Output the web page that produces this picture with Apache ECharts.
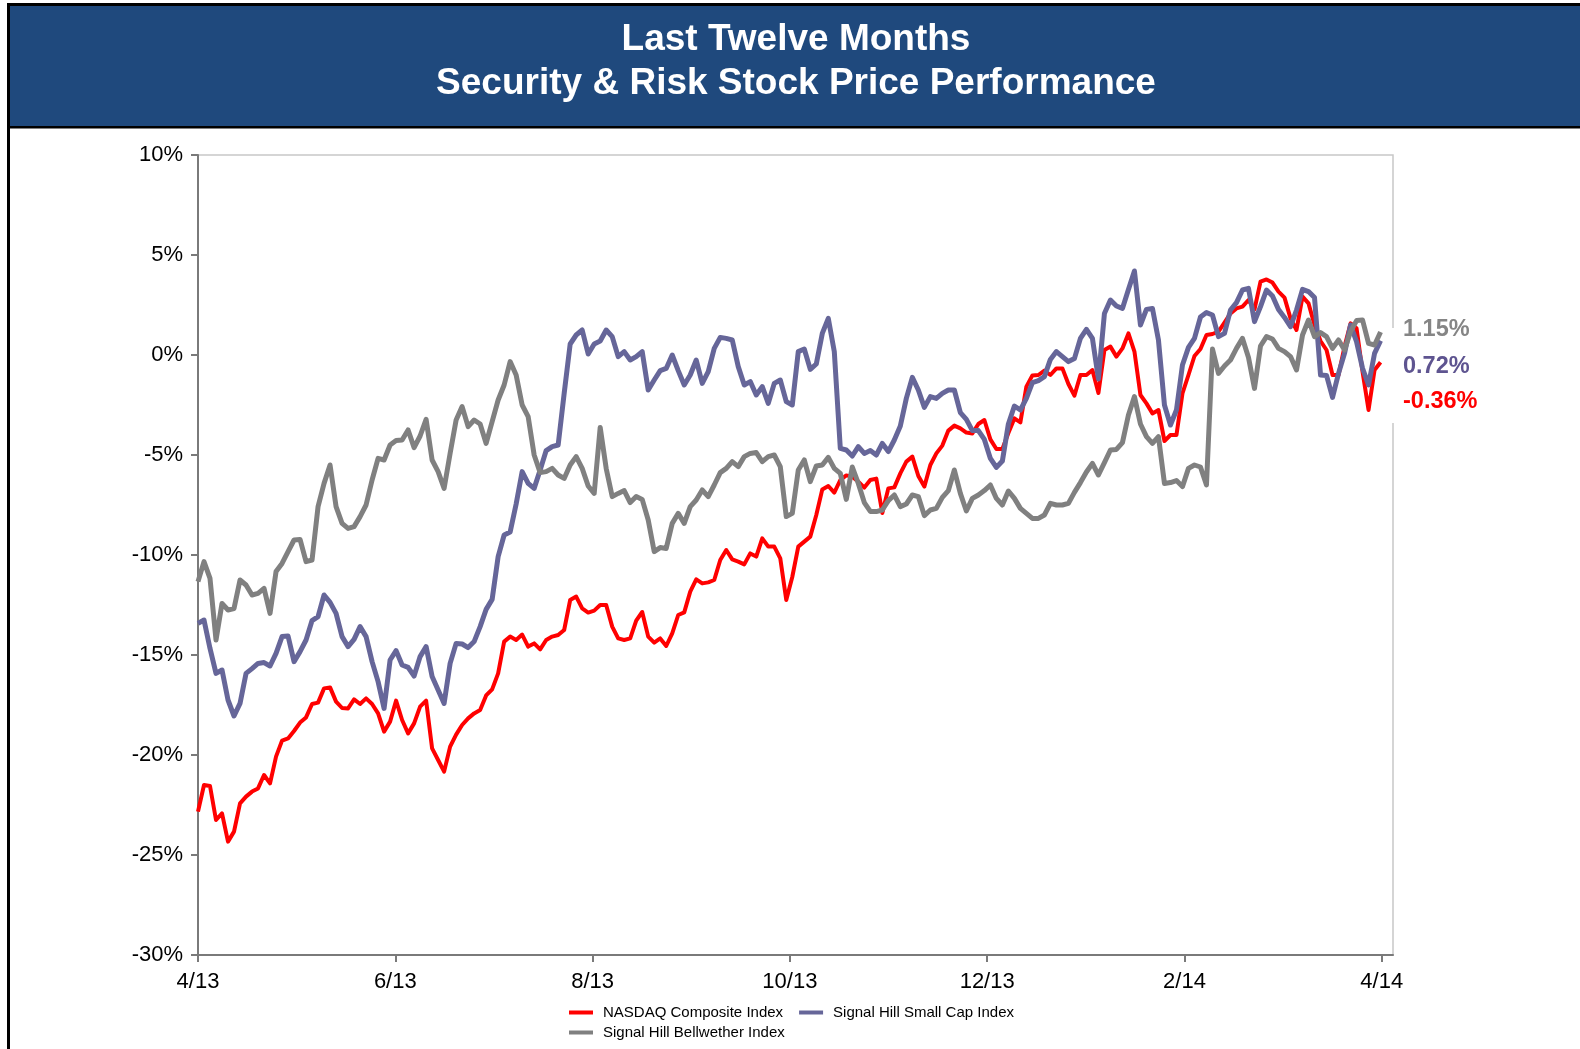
<!DOCTYPE html>
<html>
<head>
<meta charset="utf-8">
<title>Security &amp; Risk Stock Price Performance</title>
<script src="https://cdn.jsdelivr.net/npm/echarts@6/dist/echarts.min.js"></script>
<style>
  html, body { margin: 0; padding: 0; background: #fff; }
  #chart { width: 1580px; height: 1049px; }
</style>
</head>
<body>
<div id="chart"></div>
<script>
// x tick labels, one every two months
const tickLabels = ['4/13', '6/13', '8/13', '10/13', '12/13', '2/14', '4/14'];

const seriesNames = ['NASDAQ Composite Index', 'Signal Hill Small Cap Index', 'Signal Hill Bellwether Index'];

// % change, sampled evenly from 4/13 to end of 3/14
const nasdaq = [
  -22.83, -21.5, -21.55, -23.25, -22.92, -24.33, -23.83, -22.42, -22.08, -21.83,
  -21.67, -21.0, -21.42, -20.08, -19.28, -19.17, -18.8, -18.38, -18.12, -17.45,
  -17.38, -16.67, -16.62, -17.33, -17.65, -17.67, -17.22, -17.45, -17.17, -17.45,
  -17.92, -18.83, -18.33, -17.28, -18.25, -18.92, -18.42, -17.58, -17.28, -19.67,
  -20.25, -20.83, -19.58, -18.98, -18.5, -18.17, -17.92, -17.75, -17.02, -16.72,
  -15.92, -14.33, -14.08, -14.25, -13.98, -14.58, -14.42, -14.72, -14.25, -14.08,
  -14.0, -13.75, -12.25, -12.08, -12.67, -12.88, -12.78, -12.5, -12.5, -13.58,
  -14.17, -14.25, -14.17, -13.28, -12.85, -14.08, -14.38, -14.17, -14.55, -13.92,
  -13.0, -12.87, -11.83, -11.22, -11.42, -11.37, -11.25, -10.25, -9.75, -10.22,
  -10.33, -10.47, -9.92, -10.08, -9.17, -9.58, -9.58, -10.17, -12.25, -11.1,
  -9.58, -9.33, -9.08, -8.0, -6.72, -6.55, -6.88, -6.25, -6.02, -6.08,
  -6.33, -6.63, -6.25, -6.18, -7.9, -6.67, -6.62, -5.92, -5.33, -5.08,
  -6.05, -6.58, -5.5, -4.92, -4.53, -3.78, -3.53, -3.67, -3.88, -3.92,
  -3.45, -3.25, -4.22, -4.7, -4.7, -3.9, -3.17, -3.37, -1.58, -1.02,
  -1.0, -0.78, -1.0, -0.67, -0.67, -1.45, -2.03, -1.0, -1.0, -0.75,
  -1.9, 0.25, 0.42, -0.08, 0.33, 1.08, 0.17, -2.0, -2.42, -2.92,
  -2.75, -4.3, -4.0, -4.0, -1.92, -1.0, -0.05, 0.3, 1.0, 1.05,
  1.17, 1.62, 2.08, 2.33, 2.42, 2.75, 2.28, 3.67, 3.78, 3.62,
  3.17, 2.87, 1.83, 1.25, 2.92, 2.58, 1.5, 0.7, 0.25, -1.0,
  -1.0, 0.42, 1.58, 1.33, -0.83, -2.75, -0.75, -0.36
];

const smallCap = [
  -13.42, -13.25, -14.67, -15.92, -15.75, -17.25, -18.05, -17.42, -15.92, -15.68,
  -15.42, -15.38, -15.55, -14.92, -14.08, -14.05, -15.33, -14.83, -14.25, -13.28,
  -13.08, -12.0, -12.37, -12.92, -14.08, -14.58, -14.22, -13.58, -14.08, -15.33,
  -16.33, -17.67, -15.25, -14.78, -15.5, -15.62, -16.05, -15.08, -14.58, -16.08,
  -16.75, -17.42, -15.42, -14.42, -14.45, -14.63, -14.33, -13.58, -12.72, -12.22,
  -10.08, -9.0, -8.85, -7.45, -5.83, -6.42, -6.67, -5.75, -4.78, -4.58,
  -4.5, -1.92, 0.55, 1.0, 1.25, 0.05, 0.55, 0.7, 1.25, 0.92,
  -0.08, 0.17, -0.25, -0.08, 0.17, -1.75, -1.25, -0.78, -0.67, 0.0,
  -0.78, -1.5, -1.0, -0.25, -1.42, -0.83, 0.33, 0.88, 0.83, 0.75,
  -0.58, -1.5, -1.33, -2.0, -1.58, -2.42, -1.42, -1.25, -2.33, -2.5,
  0.17, 0.3, -0.72, -0.45, 1.08, 1.83, 0.17, -4.67, -4.75, -5.05,
  -4.58, -4.92, -4.78, -5.0, -4.42, -4.83, -4.25, -3.55, -2.17, -1.12,
  -1.75, -2.62, -2.08, -2.17, -1.92, -1.75, -1.75, -2.88, -3.22, -3.78,
  -3.78, -4.22, -5.17, -5.62, -5.3, -3.45, -2.55, -2.75, -2.17, -1.38,
  -1.28, -1.08, -0.22, 0.17, -0.08, -0.33, -0.18, 0.83, 1.28, 0.83,
  -1.2, 2.08, 2.75, 2.45, 2.33, 3.28, 4.2, 1.5, 2.28, 2.33,
  0.75, -2.5, -3.5, -2.75, -0.5, 0.38, 0.83, 1.9, 2.12, 2.0,
  0.92, 1.08, 2.25, 2.62, 3.25, 3.33, 1.67, 2.42, 3.25, 2.95,
  2.28, 1.88, 1.42, 2.25, 3.28, 3.17, 2.87, -1.0, -1.02, -2.12,
  -0.92, 0.08, 1.5, 0.67, -0.67, -1.5, 0.08, 0.72
];

const bellwether = [
  -11.33, -10.33, -11.17, -14.25, -12.42, -12.75, -12.68, -11.25, -11.5, -12.0,
  -11.92, -11.67, -12.92, -10.83, -10.42, -9.83, -9.25, -9.22, -10.33, -10.25,
  -7.58, -6.42, -5.5, -7.58, -8.42, -8.67, -8.58, -8.08, -7.5, -6.25,
  -5.17, -5.25, -4.5, -4.28, -4.25, -3.75, -4.63, -4.05, -3.22, -5.25,
  -5.83, -6.67, -4.92, -3.25, -2.58, -3.58, -3.25, -3.45, -4.42, -3.33,
  -2.25, -1.5, -0.33, -1.0, -2.5, -3.08, -5.0, -5.88, -5.83, -5.67,
  -6.0, -6.17, -5.5, -5.08, -5.67, -6.55, -6.92, -3.62, -5.67, -7.08,
  -6.92, -6.78, -7.38, -7.08, -7.22, -8.25, -9.83, -9.63, -9.67, -8.42,
  -7.92, -8.42, -7.58, -7.25, -6.75, -7.08, -6.5, -5.88, -5.67, -5.33,
  -5.58, -5.08, -4.92, -4.88, -5.33, -5.08, -5.0, -5.58, -8.08, -7.92,
  -5.75, -5.25, -6.33, -5.55, -5.5, -5.12, -5.67, -5.92, -7.22, -5.6,
  -6.42, -7.38, -7.82, -7.83, -7.75, -7.28, -7.0, -7.58, -7.45, -7.0,
  -7.08, -8.03, -7.75, -7.67, -7.12, -6.78, -5.75, -6.92, -7.8, -7.17,
  -7.0, -6.78, -6.5, -7.17, -7.5, -6.8, -7.17, -7.67, -7.92, -8.17,
  -8.17, -8.0, -7.42, -7.5, -7.5, -7.42, -6.87, -6.38, -5.85, -5.42,
  -6.0, -5.38, -4.75, -4.72, -4.38, -3.0, -2.08, -3.45, -4.08, -4.42,
  -4.08, -6.42, -6.38, -6.28, -6.58, -5.67, -5.5, -5.6, -6.5, 0.3,
  -0.92, -0.55, -0.25, 0.33, 0.83, -0.12, -1.67, 0.45, 0.92, 0.8,
  0.33, 0.17, -0.08, -0.75, 1.0, 1.75, 0.92, 1.12, 0.92, 0.33,
  0.75, 0.25, 1.17, 1.72, 1.75, 0.58, 0.5, 1.15
];

const colors = ['#ff0000', '#666699', '#808080'];
const labelColors = ['#ff0000', '#5e5490', '#858585'];
const font = '"Liberation Sans", Arial, Helvetica, sans-serif';

// sample spacing in axis units (one unit = two months)
const xStep = 6 / 197.2;
const toPoints = (arr) => arr.map((v, i) => [i * xStep, v]);

const lastText = (arr) => {
  const v = arr[arr.length - 1];
  return v.toFixed(2) + '%';
};

const chart = echarts.init(document.getElementById('chart'), null, { renderer: 'canvas' });

const legendBase = {
  icon: 'rect', itemWidth: 24, itemHeight: 4, itemGap: 16,
  textStyle: { color: '#000', fontSize: 15, fontFamily: font, padding: [0, 0, 0, 5] }
};

const option = {
  animation: false,
  backgroundColor: '#fff',
  grid: {
    left: 198, right: 187, top: 155, bottom: 94,
    show: true, borderColor: '#c8c8c8', borderWidth: 1.5, backgroundColor: 'transparent'
  },
  xAxis: {
    type: 'value',
    min: 0,
    max: 6.057,
    interval: 1,
    splitLine: { show: false },
    axisLine: { show: true, onZero: false, lineStyle: { color: '#7a7a7a', width: 2 } },
    axisTick: { show: true, length: 7, lineStyle: { color: '#7a7a7a', width: 2 },
      customValues: [0, 1, 2, 3, 4, 5, 6] },
    axisLabel: {
      customValues: [0, 1, 2, 3, 4, 5, 6],
      margin: 16,
      color: '#000',
      fontSize: 22,
      fontFamily: font,
      formatter: (v) => tickLabels[Math.round(v)] || ''
    }
  },
  yAxis: {
    type: 'value',
    min: -30,
    max: 10,
    interval: 5,
    splitLine: { show: false },
    axisLine: { show: true, lineStyle: { color: '#7a7a7a', width: 2 } },
    axisTick: { show: true, length: 7, lineStyle: { color: '#7a7a7a', width: 2 } },
    axisLabel: {
      margin: 15,
      color: '#000',
      fontSize: 22,
      fontFamily: font,
      formatter: '{value}%'
    }
  },
  legend: [
    Object.assign({ left: 564, top: 1000, data: [seriesNames[0], seriesNames[1]] }, legendBase),
    Object.assign({ left: 564, top: 1020, data: [seriesNames[2]] }, legendBase)
  ],
  series: [nasdaq, smallCap, bellwether].map((arr, k) => ({
    name: seriesNames[k],
    type: 'line',
    data: toPoints(arr),
    showSymbol: false,
    symbol: 'none',
    smooth: false,
    color: colors[k],
    lineStyle: { color: colors[k], width: k === 0 ? 4 : 5, join: 'round' },
    z: 2 + k
  })),
  graphic: [
    // page frame (open to the right)
    { type: 'rect', shape: { x: 8.5, y: 4.5, width: 1600, height: 1070 },
      style: { fill: 'none', stroke: '#000', lineWidth: 3 }, z: 100 },
    // title banner
    { type: 'rect', shape: { x: 10, y: 6, width: 1580, height: 120 },
      style: { fill: '#1f497d' }, z: 99 },
    { type: 'rect', shape: { x: 8.5, y: 126, width: 1580, height: 2.5 },
      style: { fill: '#000' }, z: 100 },
    { type: 'text', x: 796, y: 40, z: 101,
      style: { text: 'Last Twelve Months', fill: '#fff', font: 'bold 37px ' + font,
        align: 'center', verticalAlign: 'middle' } },
    { type: 'text', x: 796, y: 84, z: 101,
      style: { text: 'Security & Risk Stock Price Performance', fill: '#fff', font: 'bold 37px ' + font,
        align: 'center', verticalAlign: 'middle' } },
    // box behind end values
    { type: 'rect', shape: { x: 1386, y: 328, width: 100, height: 95 },
      style: { fill: '#fff' }, z: 50 },
    { type: 'text', x: 1403, y: 330, z: 51,
      style: { text: lastText(bellwether), fill: labelColors[2], font: 'bold 23.5px ' + font,
        align: 'left', verticalAlign: 'middle' } },
    { type: 'text', x: 1403, y: 367, z: 51,
      style: { text: lastText(smallCap), fill: labelColors[1], font: 'bold 23.5px ' + font,
        align: 'left', verticalAlign: 'middle' } },
    { type: 'text', x: 1403, y: 402, z: 51,
      style: { text: lastText(nasdaq), fill: labelColors[0], font: 'bold 23.5px ' + font,
        align: 'left', verticalAlign: 'middle' } }
  ]
};

chart.setOption(option);
</script>
</body>
</html>
